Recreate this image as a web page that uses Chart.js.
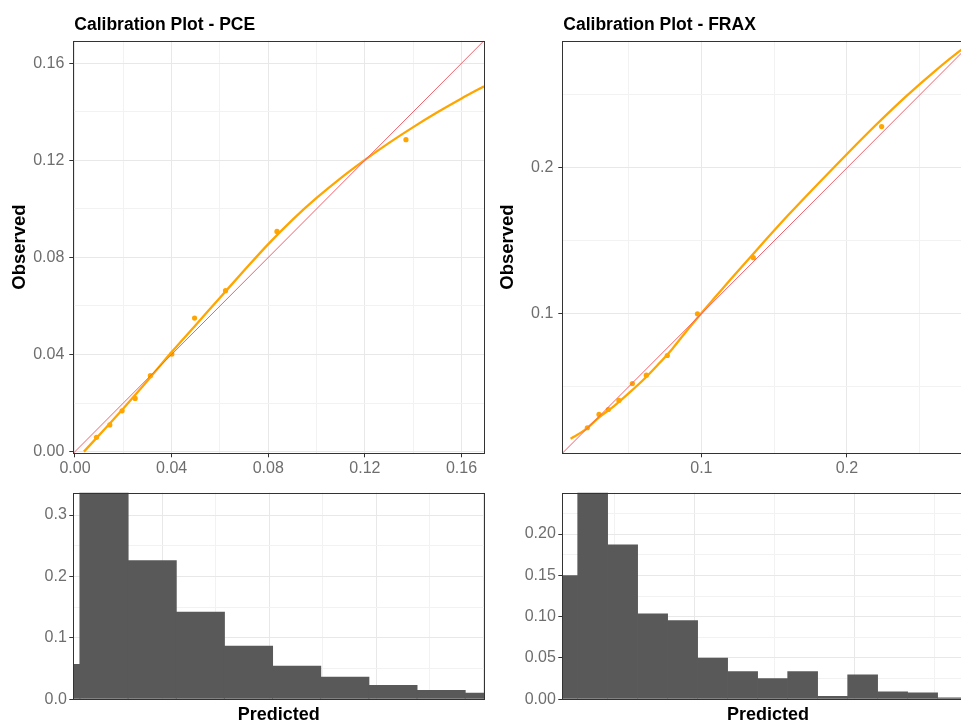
<!DOCTYPE html>
<html>
<head>
<meta charset="utf-8">
<title>Calibration Plots</title>
<script src="https://cdn.jsdelivr.net/npm/chart.js@4.4.4/dist/chart.umd.min.js"></script>
<style>
  html, body { margin: 0; padding: 0; background: #fff; overflow: hidden; }
  #stage { position: relative; width: 961px; height: 724px; overflow: hidden; background: #fff; }
  #stage canvas { position: absolute; }
</style>
</head>
<body>
<div id="stage">
  <canvas id="cal-pce" width="490" height="480" style="left:0;top:0"></canvas>
  <canvas id="cal-frax" width="494" height="480" style="left:480px;top:0"></canvas>
  <canvas id="hist-pce" width="490" height="244" style="left:0;top:480px"></canvas>
  <canvas id="hist-frax" width="494" height="244" style="left:480px;top:480px"></canvas>
</div>
<script>
// ─── PCE calibration ─────────────────────────────────────────────────────────
const PCE_PRED  = [0.0089, 0.0144, 0.0195, 0.0249, 0.0312, 0.0401, 0.0495, 0.0623, 0.0836, 0.1370];
const PCE_OBS   = [0.0059, 0.0110, 0.0168, 0.0219, 0.0313, 0.0402, 0.0550, 0.0663, 0.0907, 0.1285];
const PCE_FIT_X = [0.0037, 0.01, 0.02, 0.03, 0.04, 0.05, 0.06, 0.07, 0.08, 0.09, 0.10, 0.11, 0.12, 0.13, 0.14, 0.15, 0.16, 0.1693];
const PCE_FIT_Y = [0.0000, 0.0068, 0.0178, 0.0292, 0.0410, 0.0522, 0.0634, 0.0746, 0.0855, 0.0955, 0.1045, 0.1127, 0.1202, 0.1272, 0.1337, 0.1398, 0.1455, 0.1505];
const PCE_RANGE = [-0.0007, 0.1693];
const PCE_MAJOR = [0, 0.04, 0.08, 0.12, 0.16];
const PCE_MINOR = [0.02, 0.06, 0.10, 0.14];

// ─── FRAX calibration ────────────────────────────────────────────────────────
const FRAX_PRED  = [0.0217, 0.0297, 0.0361, 0.0434, 0.0526, 0.0622, 0.0766, 0.0973, 0.1357, 0.2238];
const FRAX_OBS   = [0.0220, 0.0311, 0.0345, 0.0407, 0.0523, 0.0580, 0.0715, 0.1000, 0.1385, 0.2283];
const FRAX_FIT_X = [0.0102, 0.02, 0.03, 0.04, 0.05, 0.06, 0.07, 0.08, 0.09, 0.10, 0.11, 0.12, 0.14, 0.16, 0.18, 0.20, 0.22, 0.24, 0.26, 0.28, 0.286];
const FRAX_FIT_Y = [0.0145, 0.0205, 0.0293, 0.0368, 0.0455, 0.0547, 0.0650, 0.0760, 0.0885, 0.1005, 0.1120, 0.1235, 0.1460, 0.1680, 0.1890, 0.2095, 0.2295, 0.2485, 0.2660, 0.2820, 0.2862];
const FRAX_RANGE = [0.0045, 0.2871];
const FRAX_MAJOR = [0.1, 0.2];
const FRAX_MINOR = [0.05, 0.15, 0.25];

// perfect-calibration reference line (y = x)
const IDENTITY = [-0.05, 0.35];

// ─── Predicted-risk histograms (share of subjects per bin) ───────────────────
const PCE_BIN_MID   = [0.00025, 0.02275, 0.04525, 0.06775, 0.09025, 0.11275, 0.13525, 0.15775, 0.18025, 0.20275];
const PCE_BIN_SHARE = [0.0575, 0.340, 0.2263, 0.1426, 0.0873, 0.0547, 0.0368, 0.0233, 0.0151, 0.0107];
const PCE_HIST_X    = [0.0084, 0.2003];
const PCE_HIST_XMAJOR = [0.05, 0.10, 0.15, 0.20];
const PCE_HIST_XMINOR = [0.025, 0.075, 0.125, 0.175];
const PCE_HIST_YMAX   = 0.3363;
const PCE_HIST_YMAJOR = [0, 0.1, 0.2, 0.3];
const PCE_HIST_YMINOR = [0.05, 0.15, 0.25];

const FRAX_BIN_MID   = [0.01733, 0.03608, 0.05483, 0.07358, 0.09233, 0.11108, 0.12983,
                        0.14858, 0.16733, 0.18608, 0.20483, 0.22358, 0.24233, 0.26108];
const FRAX_BIN_SHARE = [0.150, 0.265, 0.1872, 0.1039, 0.0957, 0.0502, 0.0339,
                        0.0254, 0.0339, 0.0039, 0.0299, 0.0095, 0.0083, 0.0022];
const FRAX_HIST_X    = [0.0171, 0.2743];
const FRAX_HIST_XMAJOR = [0.1, 0.2];
const FRAX_HIST_XMINOR = [0.05, 0.15, 0.25];
const FRAX_HIST_YMAX   = 0.25;
const FRAX_HIST_YMAJOR = [0, 0.05, 0.10, 0.15, 0.20];
const FRAX_HIST_YMINOR = [0.025, 0.075, 0.125, 0.175, 0.225];

// ─── Shared styling ─────────────────────────────────────────────────────────
Chart.defaults.font.family = "'Liberation Sans', Arial, sans-serif";
Chart.defaults.color = '#6e6e6e';
Chart.defaults.animation = false;

const GRID_MAJOR = '#E8E8E8';
const GRID_MINOR = '#F2F2F2';
const ORANGE = '#FFA500';
const isMinor = c => !!(c.tick && c.tick.minor);

// replace generated ticks with fixed major + minor breaks
function tickList(major, minor) {
    return scale => {
        scale.ticks = major.map(v => ({ value: v }))
            .concat(minor.map(v => ({ value: v, minor: true })))
            .sort((a, b) => a.value - b.value);
    };
}

function gridOpts(drawTicks) {
    return {
        color: c => isMinor(c) ? GRID_MINOR : GRID_MAJOR,
        lineWidth: 1,
        drawTicks,
        tickLength: 4,
        tickWidth: 1,
        tickColor: c => isMinor(c) ? 'rgba(0,0,0,0)' : '#333333',
        offset: false
    };
}

const label = digits => (value, i, ticks) => ticks[i].minor ? '' : value.toFixed(digits);

// panel title drawn flush with the left edge of the plot area
const panelTitle = {
    id: 'panelTitle',
    afterDraw(chart, args, opts) {
        if (!opts || !opts.text) return;
        const { ctx, chartArea } = chart;
        ctx.save();
        ctx.font = "bold 17.5px 'Liberation Sans', Arial, sans-serif";
        ctx.fillStyle = '#000000';
        ctx.textBaseline = 'alphabetic';
        ctx.textAlign = 'left';
        ctx.fillText(opts.text, chartArea.left + 1, chartArea.top - 11.2);
        ctx.restore();
    }
};

// full box round the plot area (theme_bw style)
const panelBorder = {
    id: 'panelBorder',
    afterDatasetsDraw(chart) {
        const { ctx, chartArea: { left, top, right, bottom } } = chart;
        ctx.save();
        ctx.strokeStyle = '#333333';
        ctx.lineWidth = 1;
        const l = Math.round(left) + 0.5, t = Math.round(top) + 0.5;
        ctx.strokeRect(l, t, Math.round(right) - Math.round(left), Math.round(bottom) - Math.round(top));
        ctx.restore();
    }
};

const points = (xs, ys) => xs.map((x, i) => ({ x, y: ys[i] }));

// ─── Calibration panel ──────────────────────────────────────────────────────

function drawCalibration(id, s) {
    new Chart(document.getElementById(id), {
        type: 'scatter',
        data: {
            datasets: [
                {
                    data: IDENTITY.map(v => ({ x: v, y: v })),
                    showLine: true,
                    borderColor: '#F2606A',
                    borderWidth: 1,
                    pointRadius: 0,
                    clip: 0
                },
                {
                    data: points(s.pred, s.obs),
                    backgroundColor: ORANGE,
                    borderWidth: 0,
                    pointRadius: 2.6,
                    clip: 0
                },
                {
                    data: points(s.fitX, s.fitY),
                    showLine: true,
                    borderColor: ORANGE,
                    borderWidth: 2.3,
                    pointRadius: 0,
                    cubicInterpolationMode: 'monotone',
                    clip: 0
                }
            ]
        },
        options: {
            responsive: false,
            events: [],
            layout: { autoPadding: false, padding: { top: 40.7, right: s.padRight, left: 0, bottom: 0 } },
            plugins: {
                legend: { display: false },
                tooltip: { enabled: false },
                panelTitle: { text: s.title }
            },
            scales: {
                x: {
                    type: 'linear',
                    min: s.range[0],
                    max: s.range[1],
                    afterBuildTicks: tickList(s.major, s.minor),
                    afterFit: sc => { sc.height = 26.7; },
                    border: { display: false },
                    grid: gridOpts(true),
                    ticks: { autoSkip: false, maxRotation: 0, padding: 2, font: { size: 16 }, callback: label(s.digits) }
                },
                y: {
                    type: 'linear',
                    min: s.range[0],
                    max: s.range[1],
                    afterBuildTicks: tickList(s.major, s.minor),
                    afterFit: sc => { sc.width = s.axisWidth; },
                    border: { display: false },
                    grid: gridOpts(true),
                    ticks: { autoSkip: false, padding: 5, font: { size: 16 }, callback: label(s.digits) },
                    title: {
                        display: true,
                        text: 'Observed',
                        color: '#000000',
                        font: { size: 18.5, weight: 'bold', lineHeight: 1 },
                        padding: { top: s.titlePad, bottom: 0 }
                    }
                }
            }
        },
        plugins: [panelTitle, panelBorder]
    });
}

// ─── Histogram panel ────────────────────────────────────────────────────────

function drawHistogram(id, s) {
    new Chart(document.getElementById(id), {
        type: 'bar',
        data: {
            datasets: [{
                data: points(s.mids, s.share),
                backgroundColor: '#595959',
                borderWidth: 0,
                barPercentage: 1.02,
                categoryPercentage: 1,
                clip: 0
            }]
        },
        options: {
            responsive: false,
            events: [],
            layout: { autoPadding: false, padding: { top: 12.7, right: s.padRight, left: 0, bottom: 0 } },
            plugins: { legend: { display: false }, tooltip: { enabled: false } },
            scales: {
                x: {
                    type: 'linear',
                    offset: false,
                    min: s.xRange[0],
                    max: s.xRange[1],
                    afterBuildTicks: tickList(s.xMajor, s.xMinor),
                    afterFit: sc => { sc.height = 24.7; },
                    border: { display: false },
                    grid: gridOpts(false),
                    ticks: { display: false },
                    title: {
                        display: true,
                        text: 'Predicted',
                        color: '#000000',
                        font: { size: 18, weight: 'bold', lineHeight: 1 },
                        padding: 0
                    }
                },
                y: {
                    type: 'linear',
                    min: 0,
                    max: s.yMax,
                    afterBuildTicks: tickList(s.yMajor, s.yMinor),
                    afterFit: sc => { sc.width = s.axisWidth; },
                    border: { display: false },
                    grid: gridOpts(true),
                    ticks: { autoSkip: false, padding: 2.5, font: { size: 16 }, callback: label(s.digits) }
                }
            }
        },
        plugins: [panelBorder]
    });
}

drawCalibration('cal-pce', {
    title: 'Calibration Plot - PCE',
    pred: PCE_PRED, obs: PCE_OBS, fitX: PCE_FIT_X, fitY: PCE_FIT_Y,
    range: PCE_RANGE, major: PCE_MAJOR, minor: PCE_MINOR, digits: 2,
    axisWidth: 73.3, titlePad: 10.75, padRight: 6
});

drawCalibration('cal-frax', {
    title: 'Calibration Plot - FRAX',
    pred: FRAX_PRED, obs: FRAX_OBS, fitX: FRAX_FIT_X, fitY: FRAX_FIT_Y,
    range: FRAX_RANGE, major: FRAX_MAJOR, minor: FRAX_MINOR, digits: 1,
    axisWidth: 82.3, titlePad: 19.05, padRight: 0.2
});

drawHistogram('hist-pce', {
    mids: PCE_BIN_MID, share: PCE_BIN_SHARE,
    xRange: PCE_HIST_X, xMajor: PCE_HIST_XMAJOR, xMinor: PCE_HIST_XMINOR,
    yMax: PCE_HIST_YMAX, yMajor: PCE_HIST_YMAJOR, yMinor: PCE_HIST_YMINOR, digits: 1,
    axisWidth: 73.3, padRight: 6
});

drawHistogram('hist-frax', {
    mids: FRAX_BIN_MID, share: FRAX_BIN_SHARE,
    xRange: FRAX_HIST_X, xMajor: FRAX_HIST_XMAJOR, xMinor: FRAX_HIST_XMINOR,
    yMax: FRAX_HIST_YMAX, yMajor: FRAX_HIST_YMAJOR, yMinor: FRAX_HIST_YMINOR, digits: 2,
    axisWidth: 82.3, padRight: 0.2
});
</script>
</body>
</html>
